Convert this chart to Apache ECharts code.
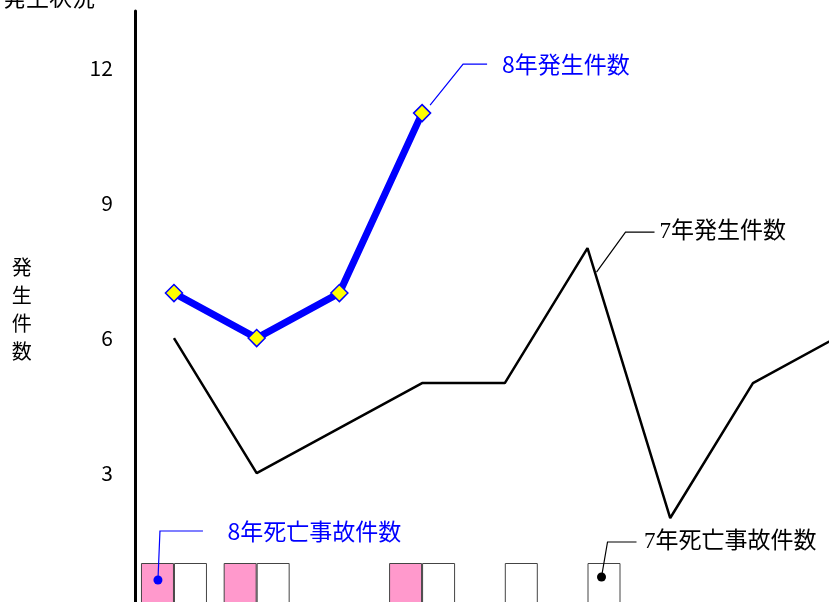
<!DOCTYPE html>
<html><head><meta charset="utf-8">
<script src="https://cdn.jsdelivr.net/npm/echarts@6/dist/echarts.min.js"></script>
<style>html,body{margin:0;padding:0;background:#fff}#c{width:829px;height:602px}</style>
</head><body><div id="c"></div>
<script>
var categories = ['4月','5月','6月','7月','8月','9月','10月','11月','12月'];
var occ8 = [7, 6, 7, 11, null, null, null, null, null];
var occ7 = [6, 3, 4, 5, 5, 8, 2, 5, 6];
var death8 = [1, 1, null, 1, null, null, null, null, null];
var death7 = [1, 1, null, 1, 1, 1, null, null, null];
var yTicks = [3, 6, 9, 12];

var JP = '"Noto Sans CJK JP", "Noto Sans", sans-serif';
var JPS = '"Liberation Serif", "Noto Sans CJK JP", serif';
var chart = echarts.init(document.getElementById('c'));
var option = {
  animation: false,
  backgroundColor: '#fff',
  title: { text: '発生状況', left: -2, top: -19, textStyle: { fontFamily: JP, fontSize: 23, fontWeight: 'normal', color: '#000' } },
  grid: { left: 132.6, top: 11, width: 744.4, height: 597, outerBoundsMode: 'none', containLabel: false },
  xAxis: {
    type: 'category', data: categories, boundaryGap: true,
    axisLine: { show: false }, axisTick: { show: false }, axisLabel: { show: false }, splitLine: { show: false }
  },
  yAxis: {
    type: 'value', min: 0, max: 13.27, interval: 3, offset: -2.2,
    name: '発\n生\n件\n数', nameLocation: 'middle', nameRotate: 0, nameGap: 103,
    nameTextStyle: { fontFamily: JP, fontSize: 20, lineHeight: 28, color: '#000', padding: [12, 0, 0, 0] },
    axisLine: { show: true, lineStyle: { color: '#000', width: 3 } },
    axisTick: { show: false }, splitLine: { show: false },
    axisLabel: { margin: 22, fontFamily: JP, fontSize: 21, color: '#000',
      formatter: function (v) { return yTicks.indexOf(v) >= 0 ? String(v) : ''; } }
  },
  series: [
    { name: '8年死亡事故件数', type: 'bar', data: death8, barWidth: 33, barGap: '0%',
      itemStyle: { color: '#FF99CC', borderColor: '#444', borderWidth: 1 }, z: 1 },
    { name: '7年死亡事故件数', type: 'bar', data: death7, barWidth: 33,
      itemStyle: { color: '#FFFFFF', borderColor: '#444', borderWidth: 1 }, z: 1 },
    { name: '7年発生件数', type: 'line', data: occ7, symbol: 'none',
      lineStyle: { color: '#000', width: 2.5 }, z: 3 },
    { name: '8年発生件数', type: 'line', data: occ8, symbol: 'diamond', symbolSize: 17,
      lineStyle: { color: '#0000FF', width: 7 },
      itemStyle: { color: '#FFFF00', borderColor: '#0000FF', borderWidth: 1.5 }, z: 4 }
  ]
};
chart.setOption(option);

function px(i, v) { return chart.convertToPixel({ gridIndex: 0 }, [i, v]); }
function leader(pts, color) {
  return { type: 'polyline', shape: { points: pts }, style: { stroke: color, lineWidth: 1.2, fill: null }, z: 10 };
}
function label(x, y, text, color, font) {
  return { type: 'text', x: x, y: y, style: { text: text, fill: color, font: font, verticalAlign: 'middle', align: 'left' }, z: 10 };
}
var a = px(3, occ8[3]);
var b = px(5, occ7[5]);
var c = px(0, death8[0]); c = [c[0] - 16.5, c[1]];
var d = px(5, death7[5]); d = [d[0] + 16.5, d[1]];
var blue = '#0000FF';
var graphics = [
  leader([[a[0] + 8, a[1] - 8], [a[0] + 41, a[1] - 49], [a[0] + 65, a[1] - 49]], blue),
  label(a[0] + 80, a[1] - 49, '8年発生件数', blue, '23px ' + JP),
  leader([[b[0] + 9, b[1] + 24], [b[0] + 38, b[1] - 16], [b[0] + 67, b[1] - 16]], '#000'),
  label(b[0] + 72, b[1] - 16, '7年発生件数', '#000', '23px ' + JPS),
  leader([[c[0] + 0.5, c[1] + 17], [c[0] + 2.5, c[1] - 32], [c[0] + 45.5, c[1] - 32]], blue),
  { type: 'circle', shape: { cx: c[0] + 0.5, cy: c[1] + 17, r: 4.5 }, style: { fill: blue }, z: 10 },
  label(c[0] + 70, c[1] - 32, '8年死亡事故件数', blue, '23px ' + JP),
  leader([[d[0] - 2.5, d[1] + 14], [d[0] + 3.5, d[1] - 21], [d[0] + 32.5, d[1] - 21]], '#000'),
  { type: 'circle', shape: { cx: d[0] - 2.5, cy: d[1] + 14, r: 4.5 }, style: { fill: '#000' }, z: 10 },
  label(d[0] + 40, d[1] - 21, '7年死亡事故件数', '#000', '23px ' + JPS)
];
chart.setOption({ graphic: graphics });
</script>
</body></html>
